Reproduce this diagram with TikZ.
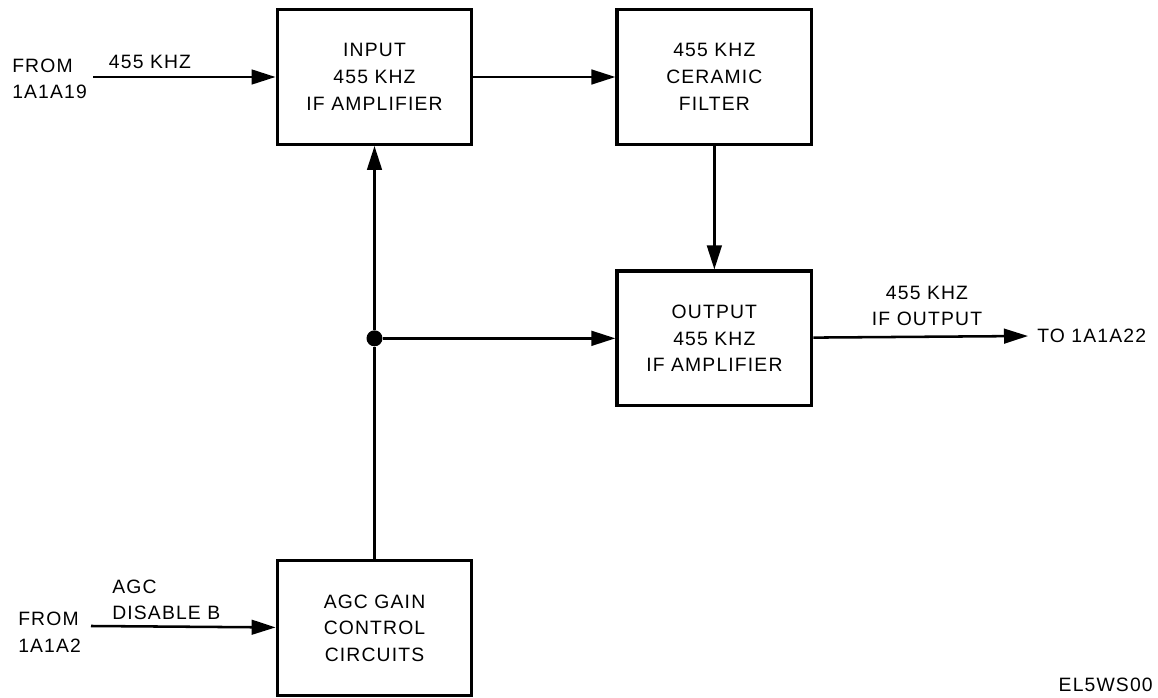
\documentclass[tikz,border=0pt]{standalone}
\usepackage{fontspec}
\setmainfont{Liberation Sans}[LetterSpace=6]
\usepackage{tikz}
\usetikzlibrary{positioning}
\usetikzlibrary{arrows.meta}

\begin{document}
\begin{tikzpicture}[x=0.75pt, y=-0.75pt,
        font=\fontsize{14.5}{20}\selectfont,
        blk/.style={draw, line width=2.4pt, minimum width=146pt,
            minimum height=101pt, align=center, inner sep=0pt},
        sig/.style={line width=1.9pt, -{Triangle[length=18pt, width=11pt]}},
        lbl/.style={align=left, inner sep=0pt}]

        \def\d{106.5pt}
        \def\h{92.6pt}
        \def\v{310pt}

        \useasboundingbox (0,0) rectangle (1158,698);

        % Blocks
        \begin{scope}
            \node[blk] (IN) at (374.5,77) {INPUT\\455 KHZ\\IF AMPLIFIER};
            \node[blk] (CF) [right=\d of IN] {455 KHZ\\CERAMIC\\FILTER};
            \node[blk] (OUT) [below=\h of CF]
            {OUTPUT\\455 KHZ\\IF AMPLIFIER};
            \node[blk] (AGC) [below=\v of IN]
            {AGC GAIN\\CONTROL\\CIRCUITS};

            \node[circle, fill, inner sep=0pt, minimum size=12pt] (J)
            at (IN.south |- OUT.west) {};
        \end{scope}

        % Labels and free ends
        \node[lbl, anchor=west] (S1) at (12,79) {FROM\\1A1A19};
        \node[lbl] (F1) at (150,62) {455 KHZ};
        \coordinate (s1) at (93,77);

        \node[lbl, anchor=west] (S2) at (18,632) {FROM\\1A1A2};
        \node[lbl, anchor=west] (F2) at (112,600) {AGC\\DISABLE B};
        \coordinate (s2) at (91,626);

        \node[lbl, align=center] (F3) at (927,306) {455 KHZ\\IF OUTPUT};
        \coordinate (o1) at (1028,336);
        \node[lbl, anchor=west] (D1) at (1037,336) {TO 1A1A22};

        \node[lbl, anchor=east] (EL) at (1153,685) {EL5WS00};

        % Connectors
        \begin{scope}
            \draw[sig] (s1) -- (IN);
            \draw[sig] (IN) -- (CF);
            \draw[sig] (CF) -- (OUT);
            \draw[sig] (J) -- (OUT);
            \draw[sig] (J) -- (IN);
            \draw[line width=1.9pt] (AGC) -- (J);
            \draw[sig] (OUT) -- (o1);
            \draw[sig] (s2) -- (AGC);
        \end{scope}

\end{tikzpicture}
\end{document}
